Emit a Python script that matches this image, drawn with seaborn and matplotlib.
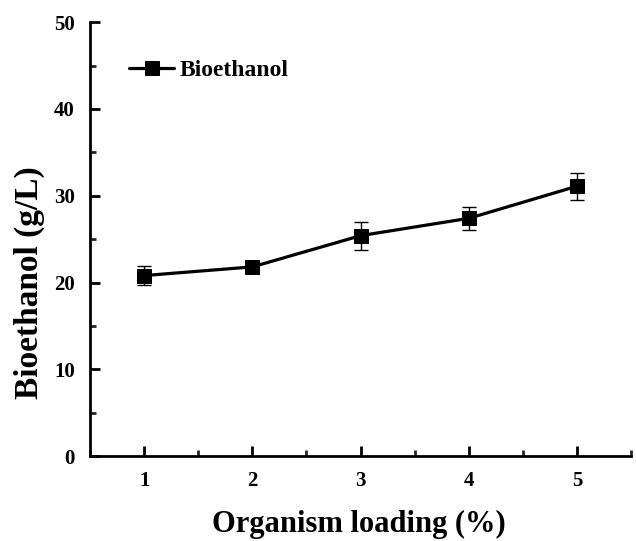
import matplotlib
matplotlib.use("Agg")
import matplotlib.pyplot as plt
import seaborn as sns
import pandas as pd
from matplotlib.ticker import MultipleLocator

loading = [1, 2, 3, 4, 5]
bioethanol = [20.8, 21.8, 25.4, 27.4, 31.1]
err = [1.1, 0.5, 1.6, 1.3, 1.55]

sns.set_theme(style="ticks")
plt.rcParams['font.family'] = ['Liberation Serif', 'DejaVu Serif']
plt.rcParams['font.weight'] = 'bold'
plt.rcParams['text.color'] = 'black'
plt.rcParams['axes.labelcolor'] = 'black'

df = pd.DataFrame({"Organism loading (%)": loading, "Bioethanol": bioethanol})

fig = plt.figure(figsize=(6.36, 5.41), dpi=100)
ax = fig.add_axes([0.1415, 0.157, 0.851, 0.802])

ax.errorbar(loading, bioethanol, yerr=err, fmt='none', ecolor='black',
            elinewidth=1.0, capsize=5, capthick=1.0, zorder=2)
sns.lineplot(data=df, x="Organism loading (%)", y="Bioethanol", ax=ax,
             color='black', linewidth=2.3, marker='s', markersize=10,
             markeredgecolor='black', markerfacecolor='black',
             label='Bioethanol', zorder=3)

ax.set_xlim(0.5, 5.5)
ax.set_ylim(0, 50)
ax.xaxis.set_major_locator(MultipleLocator(1))
ax.xaxis.set_minor_locator(MultipleLocator(0.5))
ax.yaxis.set_major_locator(MultipleLocator(10))
ax.yaxis.set_minor_locator(MultipleLocator(5))

for s in ['top', 'right']:
    ax.spines[s].set_visible(False)
for s in ['left', 'bottom']:
    ax.spines[s].set_linewidth(2.0)
    ax.spines[s].set_color('black')

ax.tick_params(axis='both', which='major', direction='in', length=7, width=2,
               labelsize=15, colors='black')
ax.tick_params(axis='x', which='major', pad=11)
ax.tick_params(axis='y', which='major', pad=11)
ax.tick_params(axis='both', which='minor', direction='in', length=4, width=2)
for lab in ax.get_xticklabels() + ax.get_yticklabels():
    lab.set_fontweight('bold')

ax.set_xlabel("Organism loading (%)", fontsize=22, fontweight='bold', color='black')
ax.set_ylabel("Bioethanol (g/L)", fontsize=24, fontweight='bold', color='black')
ax.xaxis.set_label_coords(0.497, -0.124)
ax.yaxis.set_label_coords(-0.083, 0.40)

leg = ax.legend(loc='upper left', bbox_to_anchor=(0.033, 0.962), frameon=False,
                prop={'weight': 'bold', 'size': 17}, handlelength=1.9,
                handletextpad=0.25)
for t in leg.get_texts():
    t.set_color('black')

fig.savefig("out.png", dpi=100)
